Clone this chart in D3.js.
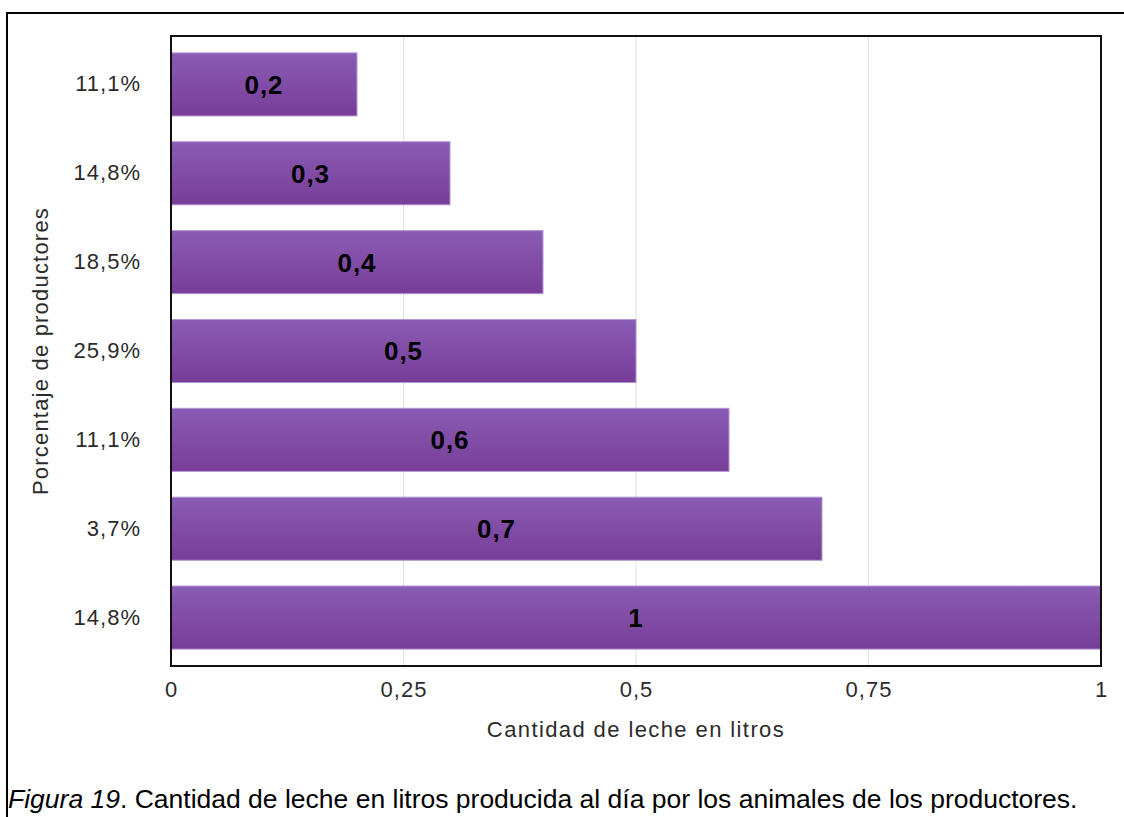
<!DOCTYPE html>
<html>
<head>
<meta charset="utf-8">
<title>Cantidad de leche</title>
<style>
  body { margin: 0; background: #fff; }
  svg { display: block; font-family: "Liberation Sans", Arial, sans-serif; }
</style>
</head>
<body>
<script src="https://cdn.jsdelivr.net/npm/d3@7/dist/d3.min.js"></script>
<script>
// data, top to bottom
const categories = ["11,1%", "14,8%", "18,5%", "25,9%", "11,1%", "3,7%", "14,8%"];
const values = [0.2, 0.3, 0.4, 0.5, 0.6, 0.7, 1];
const valueLabels = ["0,2", "0,3", "0,4", "0,5", "0,6", "0,7", "1"];
const xTicks = [0, 0.25, 0.5, 0.75, 1];
const xTickLabels = ["0", "0,25", "0,5", "0,75", "1"];

const W = 1124, H = 817;
const m = {left: 171, right: 1101, top: 36, bottom: 666};
const font = "'Liberation Sans', Arial, sans-serif";

const svg = d3.select("body").append("svg")
  .attr("width", W).attr("height", H);

const grad = svg.append("defs").append("linearGradient")
  .attr("id", "barGrad").attr("x1", 0).attr("y1", 0).attr("x2", 0).attr("y2", 1);
grad.append("stop").attr("offset", "0%").attr("stop-color", "#8a5cb3");
grad.append("stop").attr("offset", "100%").attr("stop-color", "#773d98");

// outer frame (only top & left visible)
svg.append("line").attr("x1", 6).attr("x2", W).attr("y1", 13).attr("y2", 13)
  .attr("stroke", "#000").attr("stroke-width", 2);
svg.append("line").attr("x1", 7).attr("x2", 7).attr("y1", 12).attr("y2", H)
  .attr("stroke", "#000").attr("stroke-width", 2);

const x = d3.scaleLinear().domain([0, 1]).range([m.left, m.right]);
const y = d3.scaleBand().domain(d3.range(categories.length))
  .range([m.top, m.bottom]).paddingInner(0.29).paddingOuter(0.19);

// grid
svg.append("g").selectAll("line")
  .data(xTicks.slice(1, -1))
  .join("line")
    .attr("x1", d => x(d)).attr("x2", d => x(d))
    .attr("y1", m.top).attr("y2", m.bottom)
    .attr("stroke", "#e0e0e0").attr("stroke-width", 1);

// bars
svg.append("g").selectAll("rect")
  .data(values)
  .join("rect")
    .attr("x", x(0))
    .attr("y", (d, i) => y(i))
    .attr("width", d => x(d) - x(0))
    .attr("height", y.bandwidth())
    .attr("fill", "url(#barGrad)")
    .attr("stroke", "#b596d4").attr("stroke-width", 1);

svg.append("g").selectAll("text")
  .data(values)
  .join("text")
    .attr("x", d => (x(0) + x(d)) / 2)
    .attr("y", (d, i) => y(i) + y.bandwidth() / 2)
    .attr("dy", "0.36em")
    .attr("text-anchor", "middle")
    .style("font-size", "26px").style("font-weight", "bold").style("fill", "#000")
    .style("letter-spacing", "1px")
    .text((d, i) => valueLabels[i]);

// plot frame
svg.append("rect")
  .attr("x", m.left).attr("y", m.top)
  .attr("width", m.right - m.left).attr("height", m.bottom - m.top)
  .attr("fill", "none").attr("stroke", "#111").attr("stroke-width", 2);

// axes
const yAxis = d3.axisLeft(y).tickSize(0).tickPadding(30)
  .tickFormat(i => categories[i]);
svg.append("g").attr("transform", `translate(${m.left},0)`).call(yAxis)
  .call(g => g.select(".domain").remove())
  .selectAll("text").style("font-size", "22px").style("fill", "#2b2b2b")
  .style("letter-spacing", "1px").style("font-family", font);

const xAxis = d3.axisBottom(x).tickValues(xTicks).tickSize(0).tickPadding(15)
  .tickFormat((d, i) => xTickLabels[i]);
svg.append("g").attr("transform", `translate(0,${m.bottom})`).call(xAxis)
  .call(g => g.select(".domain").remove())
  .selectAll("text").style("font-size", "22px").style("fill", "#2b2b2b")
  .style("letter-spacing", "1px").style("font-family", font);

svg.append("text")
  .attr("x", (m.left + m.right) / 2).attr("y", 737)
  .attr("text-anchor", "middle")
  .style("font-size", "22px").style("fill", "#2b2b2b").style("letter-spacing", "1.4px")
  .text("Cantidad de leche en litros");

svg.append("text")
  .attr("transform", `translate(48,${(m.top + m.bottom) / 2}) rotate(-90)`)
  .attr("text-anchor", "middle")
  .style("font-size", "22px").style("fill", "#2b2b2b").style("letter-spacing", "1.2px")
  .text("Porcentaje de productores");

// caption
const cap = svg.append("text").attr("x", 8).attr("y", 808)
  .style("font-size", "26.5px").style("fill", "#000");
cap.append("tspan").style("font-style", "italic").text("Figura 19");
cap.append("tspan").text(". Cantidad de leche en litros producida al día por los animales de los productores.");
</script>
</body>
</html>
